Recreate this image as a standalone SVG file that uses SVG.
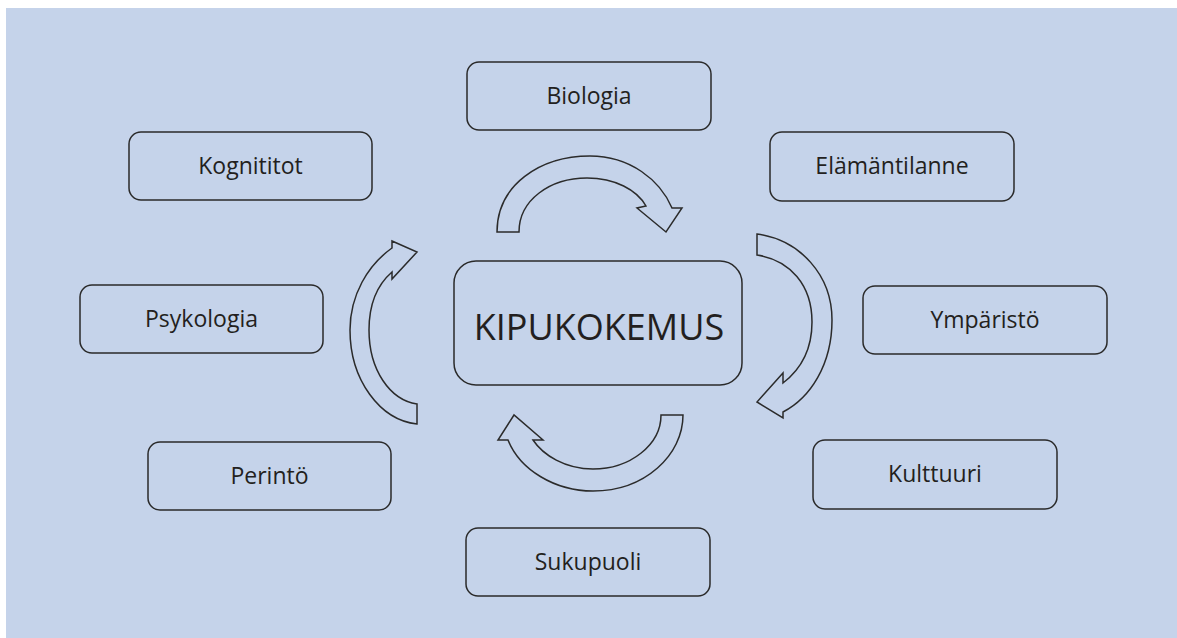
<svg xmlns="http://www.w3.org/2000/svg" width="1177" height="638" viewBox="0 0 1177 638">
<style>
.box{fill:none;stroke:#2a2a2a;stroke-width:1.5}
.lbl{font-family:"Open Sans","Noto Sans",sans-serif;font-size:23px;fill:#231f20;text-anchor:middle}
.main{font-family:"Open Sans","Noto Sans",sans-serif;font-size:36px;fill:#231f20;text-anchor:middle}
.arr{fill:none;stroke:#2b2b2b;stroke-width:1.5;stroke-linejoin:miter}
</style>
<rect x="0" y="0" width="1177" height="638" fill="#ffffff"/>
<rect x="6" y="8" width="1171" height="630" fill="#c5d3ea"/>
<g id="connectors">
<path class="arr" d="M497,232 C497,185 540,156 590,156 C630,156 660,180 672,208 L682,208 L666,232 L637,208 L646,206 C637,190 615,178 587,178 C550,178 519,200 519,232 Z"/>
<path class="arr" d="M757,234 C800,240 832,275 832,320 C832,365 810,398 783,412 L783,418 L757,402 L783,373 L783,383 C800,370 812,350 812,322 C812,285 790,260 757,255 Z"/>
<path class="arr" d="M683,415 L661,415 C661,445 630,469 593,469 C565,469 543,455 533,440 L543,440 L514,415 L498,440 L508,440 C520,470 555,491 593,491 C645,491 683,455 683,415 Z"/>
<path class="arr" d="M417,424 C380,420 350,380 350,330 C350,295 368,265 392,248 L392,241 L417,252 L392,279 L392,272 C377,285 369,305 369,330 C369,370 390,400 417,404 Z"/>
</g>
<g id="kipukokemus">
<rect class="box" x="454" y="261" width="288" height="124" rx="22"/>
<text class="main" x="599" y="340">KIPUKOKEMUS</text>
</g>
<g id="biologia">
<rect class="box" x="467" y="62" width="244" height="68" rx="12"/>
<text class="lbl" x="589" y="104">Biologia</text>
</g>
<g id="kognititot">
<rect class="box" x="129" y="132" width="243" height="68" rx="12"/>
<text class="lbl" x="250.5" y="174">Kognititot</text>
</g>
<g id="elamantilanne">
<rect class="box" x="770" y="132" width="244" height="69" rx="12"/>
<text class="lbl" x="892" y="174">Elämäntilanne</text>
</g>
<g id="psykologia">
<rect class="box" x="80" y="285" width="243" height="68" rx="12"/>
<text class="lbl" x="201.5" y="327">Psykologia</text>
</g>
<g id="ymparisto">
<rect class="box" x="863" y="286" width="244" height="68" rx="12"/>
<text class="lbl" x="985" y="328">Ympäristö</text>
</g>
<g id="perinto">
<rect class="box" x="148" y="442" width="243" height="68" rx="12"/>
<text class="lbl" x="269.5" y="484">Perintö</text>
</g>
<g id="kulttuuri">
<rect class="box" x="813" y="440" width="244" height="69" rx="12"/>
<text class="lbl" x="935" y="482">Kulttuuri</text>
</g>
<g id="sukupuoli">
<rect class="box" x="466" y="528" width="244" height="68" rx="12"/>
<text class="lbl" x="588" y="570">Sukupuoli</text>
</g>
</svg>
